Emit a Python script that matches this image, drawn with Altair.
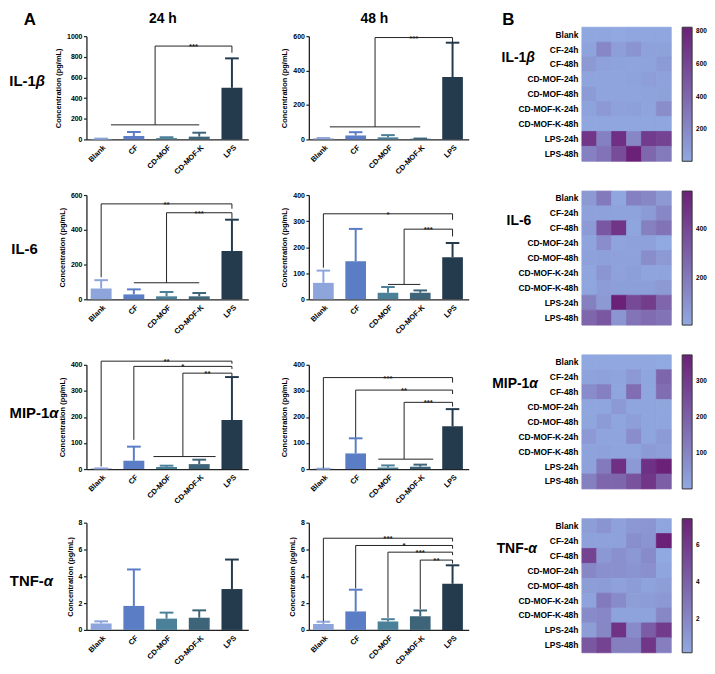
import altair as alt
import pandas as pd

FONT = "Liberation Sans"
INK = "#222222"

# ---------------- data ----------------
groups = ["Blank", "CF", "CD-MOF", "CD-MOF-K", "LPS"]
group_index = [0, 1, 2, 3, 4]
bar_colors = ["#8EA5DC", "#5B7DC6", "#4B8099", "#3E6479", "#243B4E"]

il1b_24_mean = [5, 33, 13, 27, 500]
il1b_24_sd = [3, 39, 8, 38, 285]
il1b_48_mean = [6, 23, 12, 4, 362]
il1b_48_sd = [2, 19, 13, 1, 200]
il6_24_mean = [62, 28, 17, 17, 278]
il6_24_sd = [48, 29, 25, 19, 180]
il6_48_mean = [63, 146, 25, 25, 161]
il6_48_sd = [47, 124, 22, 9, 55]
mip_24_mean = [2.5, 32, 8, 19, 188]
mip_24_sd = [0, 54, 5, 17, 165]
mip_48_mean = [1.5, 60, 6, 9, 164]
mip_48_sd = [0, 58, 8, 8, 66]
tnf_24_mean = [0.48, 1.79, 0.84, 0.91, 3.05]
tnf_24_sd = [0.16, 2.72, 0.45, 0.55, 2.2]
tnf_48_mean = [0.44, 1.38, 0.63, 1.02, 3.44]
tnf_48_sd = [0.17, 1.62, 0.17, 0.43, 1.38]

il1b_24_ticks = [0, 200, 400, 600, 800, 1000]
il1b_48_ticks = [0, 200, 400, 600]
il6_24_ticks = [0, 200, 400, 600]
il6_48_ticks = [0, 100, 200, 300, 400]
mip_ticks = [0, 100, 200, 300, 400]
tnf_ticks = [0, 2, 4, 6, 8]

# significance brackets: (x of left leg, y of left foot, y of bridge, y of right foot at LPS, label)
il1b_24_br = [(1.65, 141, 904, 840, "***")]
il1b_24_grp = [(0.3, 3.0, 141)]
il1b_48_br = [(1.6, 73, 592, 562, "***")]
il1b_48_grp = [(0.2, 3.0, 73)]
il6_24_br = [(0, 127, 549, 521, "**"), (2.0, 95, 498, 464, "***")]
il6_24_grp = [(1.0, 3.0, 95)]
il6_48_br = [(0, 121, 328, 305, "*"), (2.5, 57, 269, 241, "***")]
il6_48_grp = [(2.0, 3.0, 57)]
mip_24_br = [(0, 10, 414, 404, "**"), (1, 112, 394, 384, "*"), (2.5, 48, 368, 356, "**")]
mip_24_grp = [(1.6, 3.5, 48)]
mip_48_br = [(0, 3, 351, 332, "***"), (1, 121, 303, 288, "**"), (2.5, 38, 256, 240, "***")]
mip_48_grp = [(1.7, 3.4, 38)]
tnf_24_br = []
tnf_24_grp = []
tnf_48_br = [(0, 0.65, 6.84, 6.6, "***"), (1, 3.1, 6.3, 6.06, "*"),
             (2, 0.9, 5.8, 5.58, "***"), (3, 1.55, 5.21, 4.95, "**")]
tnf_48_grp = []

# ---- panel B heatmaps (9 samples x 6 replicates) ----
heat_rows = ["Blank", "CF-24h", "CF-48h", "CD-MOF-24h", "CD-MOF-48h",
             "CD-MOF-K-24h", "CD-MOF-K-48h", "LPS-24h", "LPS-48h"]
heat_cols = [1, 2, 3, 4, 5, 6]

il1b_heat = [
    [18, 20, 6, 22, 18, 20],
    [45, 210, 70, 130, 55, 50],
    [105, 55, 40, 38, 40, 90],
    [38, 35, 36, 40, 72, 55],
    [88, 36, 38, 35, 40, 50],
    [45, 105, 55, 62, 38, 170],
    [20, 22, 18, 20, 25, 22],
    [700, 250, 740, 210, 660, 620],
    [250, 330, 560, 824, 400, 290],
]
il6_heat = [
    [70, 195, 15, 170, 140, 70],
    [35, 35, 30, 30, 60, 140],
    [60, 335, 475, 20, 170, 225],
    [25, 115, 25, 35, 35, 3],
    [35, 40, 35, 35, 115, 70],
    [20, 85, 35, 45, 25, 25],
    [20, 55, 45, 45, 45, 70],
    [170, 70, 558, 390, 445, 280],
    [280, 335, 85, 220, 250, 225],
]
mip_heat = [
    [5, 4, 6, 3, 5, 1],
    [20, 22, 15, 45, 12, 185],
    [80, 110, 12, 165, 12, 165],
    [12, 10, 45, 10, 12, 10],
    [10, 38, 12, 30, 10, 12],
    [45, 15, 15, 75, 10, 38],
    [18, 22, 15, 15, 38, 30],
    [22, 130, 335, 45, 328, 373],
    [110, 185, 185, 240, 315, 205],
]
tnf_heat = [
    [0.8, 1.3, 0.6, 1.1, 1.2, 0.4],
    [0.6, 0.6, 0.6, 1.6, 1.3, 7.4],
    [5.6, 1.1, 1.5, 1.1, 1.8, 0.2],
    [2.0, 1.5, 1.5, 1.3, 1.5, 0.4],
    [0.8, 0.9, 0.6, 0.9, 0.55, 0.8],
    [0.55, 2.7, 1.8, 0.8, 0.9, 1.1],
    [1.8, 2.0, 0.55, 0.55, 0.55, 2.0],
    [0.8, 2.0, 6.5, 1.8, 4.2, 6.0],
    [4.5, 5.6, 2.4, 2.4, 6.3, 2.4],
]
il1b_legend = [200, 400, 600, 800]
il6_legend = [200, 400]
mip_legend = [100, 200, 300]
tnf_legend = [2, 4, 6]

HEAT_LOW = "#90A9E0"
HEAT_HIGH = "#6B2177"

# ---------------- layout (page pixels) ----------------
ROW_Y = [24, 189, 354, 519]        # top of each heatmap = row origin
ROW_GAP = 30
HEAT_H = 135
X24, W24, W24_TOTAL = 87, 163, 224
X48, W48, W48_TOTAL = 311, 161, 275
XH, WH = 586, 90

# ---------------- helpers ----------------
one = pd.DataFrame({"k": [0]})
label_expr = "[" + ",".join("'" + g + "'" for g in groups) + "][datum.value]"


def x_axis():
    return alt.Axis(values=group_index, labelExpr=label_expr, title=None, ticks=False,
                    grid=False, labelAngle=-45, labelAlign="right", labelBaseline="top",
                    labelFontSize=7.5, labelFontWeight="bold", labelColor="black",
                    labelPadding=4, labelOverlap=False, labelFlush=False,
                    domainColor=INK, domainWidth=1.3)


def y_axis(ticks):
    return alt.Axis(values=ticks, format="d", title="Concentration (pg/mL)", grid=False,
                    tickSize=3, tickWidth=1.2, tickColor=INK, domainColor=INK, domainWidth=1.3,
                    labelFontSize=7, labelFontWeight="bold", labelColor="black",
                    labelPadding=1.5, labelFlush=False, labelOverlap=False,
                    titleFontSize=7.5, titleFontWeight="bold", titleColor="black",
                    titlePadding=4)


def text_layer(t, x, y, align, size, italic=False):
    kw = dict(align=align, baseline="middle", fontSize=size, fontWeight="bold",
              color="black", font=FONT)
    if italic:
        kw["fontStyle"] = "italic"
    return alt.Chart(one).mark_text(**kw).encode(
        x=alt.value(x), y=alt.value(y), text=alt.value(t))


def anchor_layer(x, y):
    # invisible white dot fixing the top-left corner of the whole figure
    return alt.Chart(one).mark_rule(color="white", strokeWidth=2).encode(
        x=alt.value(x), x2=alt.value(x + 1), y=alt.value(y))


def bar_panel(mean, sd, ticks, brackets, glines, row, top, H, X, W, WT, anchors, texts):
    R = ROW_Y[row]
    d = top - R
    ymax = ticks[-1]
    df = pd.DataFrame({"i": group_index, "g": groups, "c": bar_colors,
                       "mean": mean, "sd": sd})
    df["top"] = df["mean"] + df["sd"]
    df["x0"] = df["i"] - 0.32
    df["x1"] = df["i"] + 0.32
    df["c0"] = df["i"] - 0.21
    df["c1"] = df["i"] + 0.21
    df["zero"] = 0
    xs = alt.Scale(domain=[-0.45, 4.5], range=[0, W], nice=False, zero=False)
    ys = alt.Scale(domain=[0, ymax], range=[d + H, d], nice=False)
    xa = x_axis()
    ya = y_axis(ticks)
    col = alt.Color("c:N", scale=None)
    base = alt.Chart(df)
    layers = [
        base.mark_bar().encode(x=alt.X("x0:Q", scale=xs, axis=xa), x2="x1:Q",
                               y=alt.Y("mean:Q", scale=ys, axis=ya), y2="zero:Q", color=col),
        base.mark_rule(strokeWidth=2).encode(x=alt.X("i:Q", scale=xs, axis=xa),
                                             y=alt.Y("mean:Q", scale=ys, axis=ya),
                                             y2="top:Q", color=col),
        base.mark_rule(strokeWidth=2).encode(x=alt.X("c0:Q", scale=xs, axis=xa), x2="c1:Q",
                                             y=alt.Y("top:Q", scale=ys, axis=ya), color=col),
    ]
    segs = []
    labs = []
    for (xl, yl, yt, yr, lab) in brackets:
        segs += [(xl, xl, yl, yt), (xl, 4, yt, yt), (4, 4, yt, yr)]
        labs.append(((xl + 4) / 2, yt, lab))
    for (a, b, y) in glines:
        segs.append((a, b, y, y))
    if segs:
        sdf = pd.DataFrame(segs, columns=["x", "x2", "y", "y2"])
        layers.append(alt.Chart(sdf).mark_rule(color=INK, strokeWidth=1).encode(
            x=alt.X("x:Q", scale=xs, axis=xa), x2="x2:Q",
            y=alt.Y("y:Q", scale=ys, axis=ya), y2="y2:Q"))
        ldf = pd.DataFrame(labs, columns=["x", "y", "lab"])
        layers.append(alt.Chart(ldf).mark_text(fontSize=8, fontWeight="bold", color=INK,
                                               baseline="alphabetic", dy=3).encode(
            x=alt.X("x:Q", scale=xs, axis=xa), y=alt.Y("y:Q", scale=ys, axis=ya),
            text="lab:N"))
    for (t, px, py, al, sz, it) in texts:
        layers.append(text_layer(t, px - X, py - R, al, sz, it))
    for (px, py) in anchors:
        layers.append(anchor_layer(px - X, py - R))
    return alt.layer(*layers).properties(width=WT, height=d + H)


def heat_scale():
    return alt.Scale(range=[HEAT_LOW, HEAT_HIGH], interpolate="rgb", zero=False, nice=False)


def heat_panel(values, legend_vals, row, texts):
    R = ROW_Y[row]
    recs = []
    for i, r in enumerate(heat_rows):
        for j, c in enumerate(heat_cols):
            recs.append({"row": r, "col": c, "v": values[i][j]})
    df = pd.DataFrame(recs)
    df["v_edge"] = df["v"]  # same value, used only to paint cell edges (hides seams)
    rect = alt.Chart(df).mark_rect(strokeWidth=0.8).encode(
        x=alt.X("col:O", axis=None, scale=alt.Scale(paddingInner=0, paddingOuter=0)),
        y=alt.Y("row:N", sort=heat_rows, scale=alt.Scale(paddingInner=0, paddingOuter=0),
                axis=alt.Axis(title=None, ticks=False, domain=False, labelFontSize=8.5,
                              labelFontWeight="bold", labelColor="black", labelPadding=4)),
        color=alt.Color("v:Q", scale=heat_scale(),
                        legend=alt.Legend(title=None, values=legend_vals, gradientLength=HEAT_H,
                                          gradientThickness=10, gradientStrokeColor="#333333",
                                          gradientStrokeWidth=1, labelFontSize=6.5,
                                          labelFontWeight="bold", labelColor="black",
                                          labelOffset=4, labelOverlap=False, offset=11,
                                          padding=0, direction="vertical", orient="right")),
        stroke=alt.Stroke("v_edge:Q", scale=heat_scale(), legend=None),
    )
    layers = [rect]
    for (t, px, py, al, sz, it) in texts:
        layers.append(text_layer(t, px - XH, py - R, al, sz, it))
    return alt.layer(*layers).properties(width=WH, height=HEAT_H)


# ---------------- panels ----------------
panels = [
    # row 1: IL-1beta
    bar_panel(il1b_24_mean, il1b_24_sd, il1b_24_ticks, il1b_24_br, il1b_24_grp,
              0, 33, 104, X24, W24, W24_TOTAL, [(9, 9)],
              [("IL-1", 36, 78, "right", 15, False), ("β", 36, 78, "left", 15, True),
               ("A", 30, 16.5, "center", 17, False), ("24 h", 164, 16, "center", 14, False)]),
    bar_panel(il1b_48_mean, il1b_48_sd, il1b_48_ticks, il1b_48_br, il1b_48_grp,
              0, 33, 104, X48, W48, W48_TOTAL, [],
              [("48 h", 377, 16, "center", 14, False)]),
    heat_panel(il1b_heat, il1b_legend, 0,
               [("IL-1", 530, 55, "right", 14, False), ("β", 530, 55, "left", 14, True),
                ("B", 512, 16.5, "center", 17, False)]),
    # row 2: IL-6
    bar_panel(il6_24_mean, il6_24_sd, il6_24_ticks, il6_24_br, il6_24_grp,
              1, 193, 105, X24, W24, W24_TOTAL, [(9, 190)],
              [("IL-6", 38, 247, "right", 15, False)]),
    bar_panel(il6_48_mean, il6_48_sd, il6_48_ticks, il6_48_br, il6_48_grp,
              1, 193, 105, X48, W48, W48_TOTAL, [], []),
    heat_panel(il6_heat, il6_legend, 1, [("IL-6", 535, 219, "right", 14, False)]),
    # row 3: MIP-1alpha
    bar_panel(mip_24_mean, mip_24_sd, mip_ticks, mip_24_br, mip_24_grp,
              2, 364, 105, X24, W24, W24_TOTAL, [(9, 355)],
              [("MIP-1", 49.5, 413, "right", 15, False), ("α", 49.5, 413, "left", 15, True)]),
    bar_panel(mip_48_mean, mip_48_sd, mip_ticks, mip_48_br, mip_48_grp,
              2, 364, 105, X48, W48, W48_TOTAL, [], []),
    heat_panel(mip_heat, mip_legend, 2,
               [("MIP-1", 533, 383, "right", 14, False), ("α", 533, 383, "left", 14, True)]),
    # row 4: TNF-alpha
    bar_panel(tnf_24_mean, tnf_24_sd, tnf_ticks, tnf_24_br, tnf_24_grp,
              3, 523, 108, X24, W24, W24_TOTAL, [(9, 520)],
              [("TNF-", 44, 582, "right", 15, False), ("α", 44, 582, "left", 15, True)]),
    bar_panel(tnf_48_mean, tnf_48_sd, tnf_ticks, tnf_48_br, tnf_48_grp,
              3, 523, 108, X48, W48, W48_TOTAL, [], []),
    heat_panel(tnf_heat, tnf_legend, 3,
               [("TNF-", 532, 550, "right", 14, False), ("α", 532, 550, "left", 14, True)]),
]

chart = (
    alt.concat(*panels, columns=3, spacing={"row": ROW_GAP, "column": 0},
               bounds="flush", align="each")
    .resolve_scale(color="independent", stroke="independent")
    .properties(padding={"left": 0, "top": 0, "right": 0, "bottom": 0})
    .configure(font=FONT)
    .configure_view(stroke=None)
)

chart.save("out.html", embed_options={"renderer": "svg", "actions": False})
